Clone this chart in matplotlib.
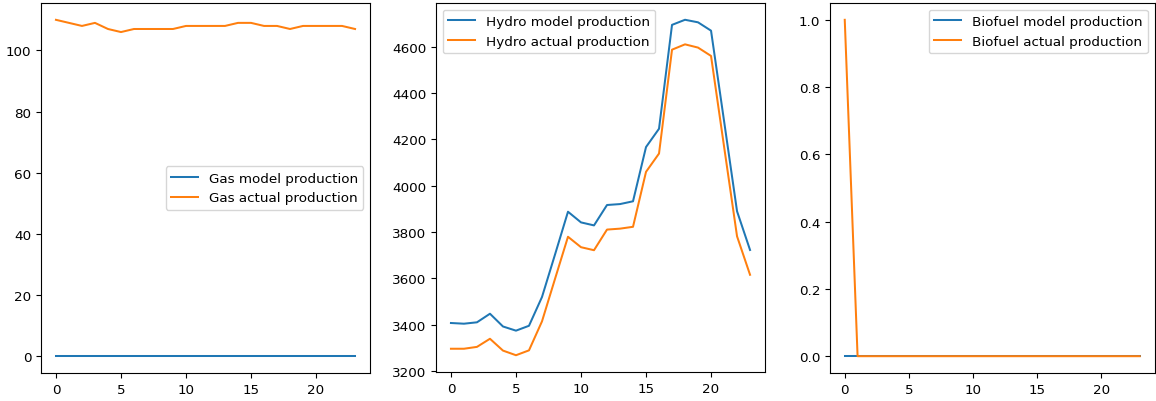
import matplotlib
matplotlib.use("Agg")
import matplotlib.pyplot as plt

hours = list(range(24))

gas_model = [0] * 24
gas_actual = [110, 109, 108, 109, 107, 106, 107, 107, 107, 107, 108, 108,
              108, 108, 109, 109, 108, 108, 107, 108, 108, 108, 108, 107]

hydro_model = [3408, 3405, 3411, 3448, 3393, 3375, 3396, 3520, 3703, 3888, 3842, 3829,
               3917, 3921, 3933, 4167, 4246, 4694, 4716, 4705, 4669, 4280, 3890, 3723]
hydro_actual = [3297, 3297, 3305, 3340, 3289, 3269, 3290, 3415, 3598, 3780, 3735, 3722,
                3811, 3815, 3823, 4060, 4139, 4587, 4610, 4596, 4560, 4170, 3782, 3616]

biofuel_model = [0] * 24
biofuel_actual = [1] + [0] * 23

W, H = 1156, 402
fig = plt.figure(figsize=(W / 100, H / 100), dpi=100)
fs = 9.7

def box(x0, x1, y_top, y_bot):
    return [x0 / W, (H - y_bot) / H, (x1 - x0) / W, (y_bot - y_top) / H]

panels = [
    (box(41, 370, 4, 374), gas_model, gas_actual, "Gas", "center right"),
    (box(436, 765, 4, 373), hydro_model, hydro_actual, "Hydro", "upper left"),
    (box(830, 1154.5, 4, 374), biofuel_model, biofuel_actual, "Biofuel", "upper right"),
]

lw = 1.45
for rect, model, actual, name, loc in panels:
    ax = fig.add_axes(rect)
    ax.plot(hours, model, color="#1f77b4", lw=lw, label=f"{name} model production")
    ax.plot(hours, actual, color="#ff7f0e", lw=lw, label=f"{name} actual production")
    ax.set_xticks([0, 5, 10, 15, 20])
    ax.tick_params(labelsize=fs, width=0.8, length=3.5)
    for s in ax.spines.values():
        s.set_linewidth(0.8)
    ax.legend(loc=loc, fontsize=fs)

fig.savefig("out.png", dpi=100)
